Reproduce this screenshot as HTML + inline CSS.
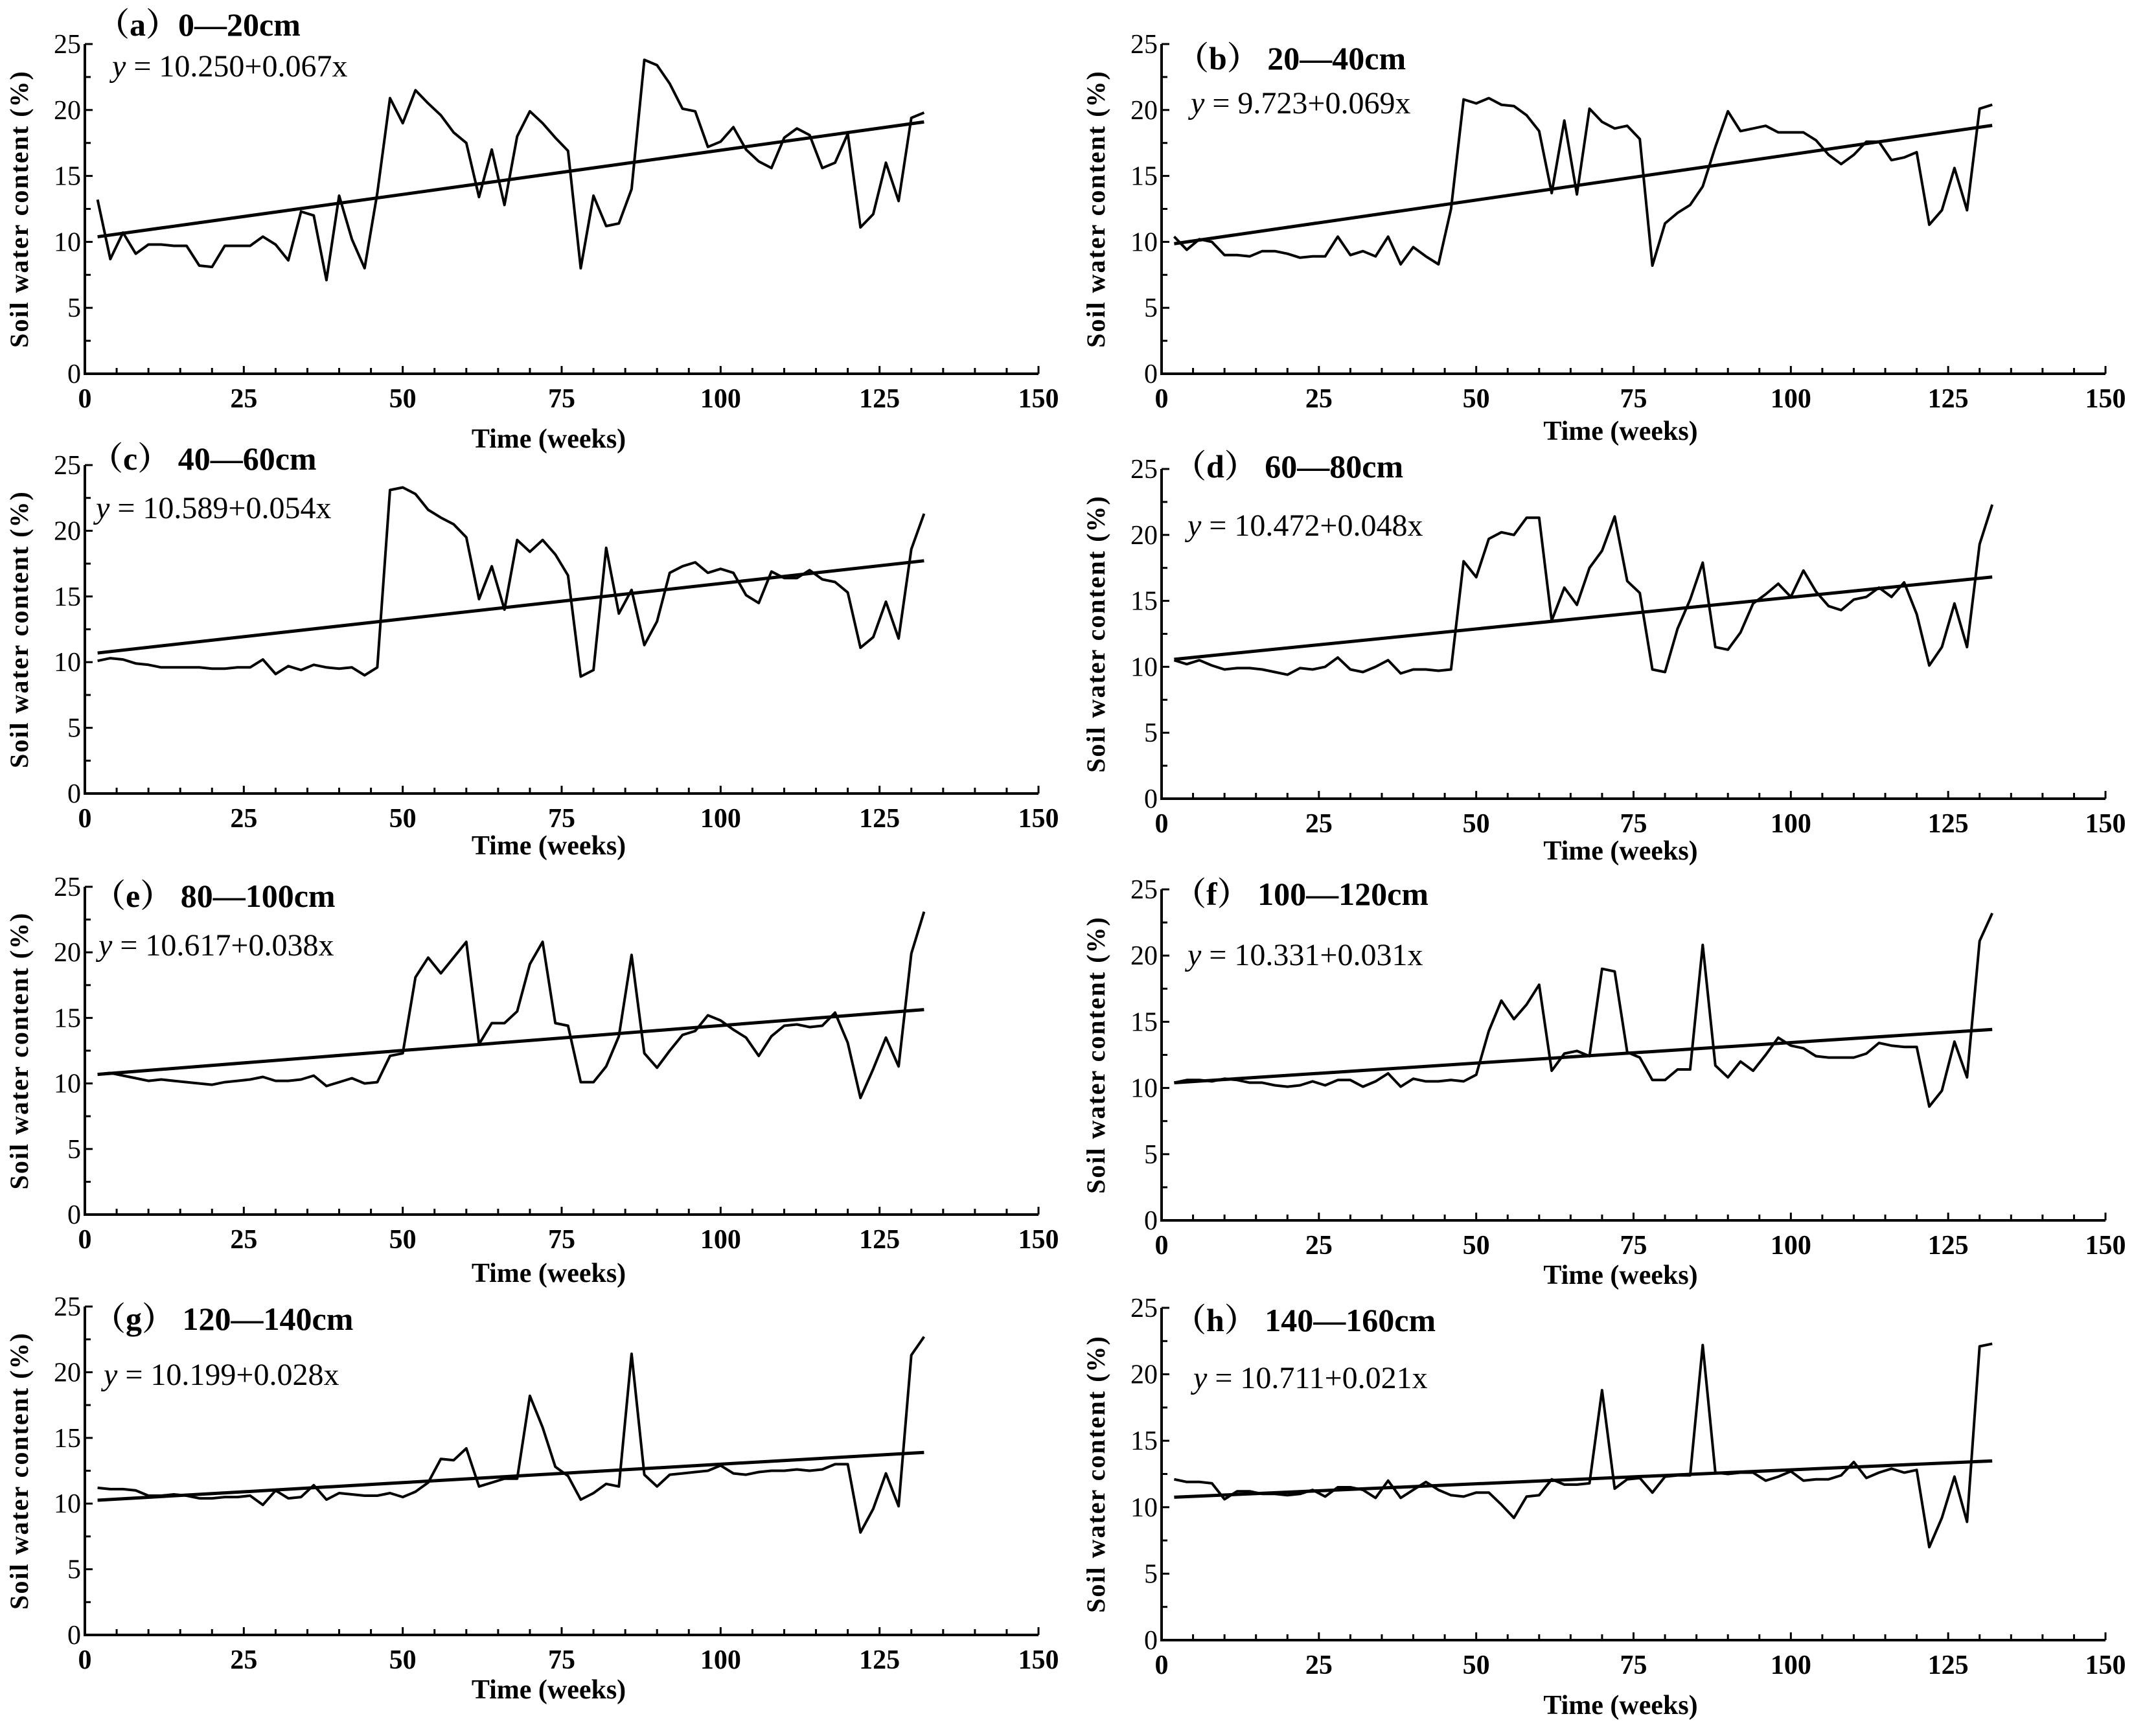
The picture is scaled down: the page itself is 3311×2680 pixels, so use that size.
<!DOCTYPE html>
<html><head><meta charset="utf-8"><style>
html,body{margin:0;padding:0;background:#fff;}
svg{display:block;font-family:"Liberation Serif","Noto Serif CJK SC",serif;}
</style></head>
<body>
<svg id="fig" width="3311" height="2680" viewBox="0 0 3311 2680" xmlns="http://www.w3.org/2000/svg"></svg>
<script>
const weeks = [];
for (let w = 2; w <= 132; w += 2) weeks.push(w);
const xTicks = [0,25,50,75,100,125,150];
const yTicks = [0,5,10,15,20,25];
const titles = ["（a）0—20cm","（b） 20—40cm","（c） 40—60cm","（d） 60—80cm","（e） 80—100cm","（f） 100—120cm","（g） 120—140cm","（h） 140—160cm"];
const intercepts = [10.250,9.723,10.589,10.472,10.617,10.331,10.199,10.711];
const slopes = [0.067,0.069,0.054,0.048,0.038,0.031,0.028,0.021];
const seriesA = [13.2,8.7,10.7,9.1,9.8,9.8,9.7,9.7,8.2,8.1,9.7,9.7,9.7,10.4,9.8,8.6,12.3,12.0,7.1,13.5,10.2,8.0,13.7,20.9,19.0,21.5,20.5,19.6,18.3,17.5,13.4,17.0,12.8,18.0,19.9,19.0,17.9,16.9,8.0,13.5,11.2,11.4,14.0,23.8,23.4,22.0,20.1,19.9,17.2,17.6,18.7,17.0,16.1,15.6,17.9,18.6,18.1,15.6,16.0,18.2,11.1,12.1,16.0,13.1,19.4,19.8];
const seriesB = [10.4,9.4,10.2,10.0,9.0,9.0,8.9,9.3,9.3,9.1,8.8,8.9,8.9,10.4,9.0,9.3,8.9,10.4,8.3,9.6,8.9,8.3,12.5,20.8,20.5,20.9,20.4,20.3,19.6,18.4,13.7,19.2,13.6,20.1,19.1,18.6,18.8,17.8,8.2,11.4,12.2,12.8,14.2,17.2,19.9,18.4,18.6,18.8,18.3,18.3,18.3,17.7,16.6,15.9,16.6,17.6,17.6,16.2,16.4,16.8,11.3,12.4,15.6,12.4,20.1,20.4];
const seriesC = [10.1,10.3,10.2,9.9,9.8,9.6,9.6,9.6,9.6,9.5,9.5,9.6,9.6,10.2,9.1,9.7,9.4,9.8,9.6,9.5,9.6,9.0,9.6,23.1,23.3,22.8,21.6,21.0,20.5,19.5,14.8,17.3,14.0,19.3,18.4,19.3,18.2,16.6,8.9,9.4,18.7,13.7,15.5,11.3,13.1,16.8,17.3,17.6,16.8,17.1,16.8,15.1,14.5,16.9,16.4,16.4,17.0,16.3,16.1,15.3,11.1,11.9,14.6,11.8,18.6,21.3];
const seriesD = [10.5,10.2,10.5,10.1,9.8,9.9,9.9,9.8,9.6,9.4,9.9,9.8,10.0,10.7,9.8,9.6,10.0,10.5,9.5,9.8,9.8,9.7,9.8,18.0,16.8,19.7,20.2,20.0,21.3,21.3,13.5,16.0,14.7,17.5,18.8,21.4,16.5,15.6,9.8,9.6,12.9,15.1,17.9,11.5,11.3,12.6,14.8,15.5,16.3,15.3,17.3,15.7,14.6,14.3,15.1,15.3,16.0,15.3,16.4,14.0,10.1,11.5,14.8,11.5,19.3,22.3];
const seriesE = [10.7,10.8,10.6,10.4,10.2,10.3,10.2,10.1,10.0,9.9,10.1,10.2,10.3,10.5,10.2,10.2,10.3,10.6,9.8,10.1,10.4,10.0,10.1,12.1,12.3,18.1,19.6,18.4,19.6,20.8,13.0,14.6,14.6,15.5,19.1,20.8,14.6,14.4,10.1,10.1,11.3,13.6,19.8,12.3,11.2,12.5,13.7,14.0,15.2,14.8,14.1,13.5,12.1,13.6,14.4,14.5,14.3,14.4,15.4,13.1,8.9,11.1,13.5,11.3,19.9,23.1];
const seriesF = [10.4,10.6,10.6,10.5,10.7,10.6,10.4,10.4,10.2,10.1,10.2,10.5,10.2,10.6,10.6,10.1,10.5,11.1,10.1,10.7,10.5,10.5,10.6,10.5,11.0,14.3,16.6,15.2,16.3,17.8,11.3,12.6,12.8,12.4,19.0,18.8,12.7,12.3,10.6,10.6,11.4,11.4,20.8,11.7,10.8,12.0,11.3,12.5,13.8,13.2,13.0,12.4,12.3,12.3,12.3,12.6,13.4,13.2,13.1,13.1,8.6,9.8,13.5,10.8,21.1,23.2];
const seriesG = [11.2,11.1,11.1,11.0,10.6,10.6,10.7,10.6,10.4,10.4,10.5,10.5,10.6,9.9,11.0,10.4,10.5,11.4,10.3,10.8,10.7,10.6,10.6,10.8,10.5,10.9,11.6,13.4,13.3,14.2,11.3,11.6,11.9,11.9,18.2,15.8,12.8,12.1,10.3,10.8,11.5,11.3,21.4,12.2,11.3,12.2,12.3,12.4,12.5,12.9,12.3,12.2,12.4,12.5,12.5,12.6,12.5,12.6,13.0,13.0,7.8,9.6,12.3,9.8,21.3,22.7];
const seriesH = [12.1,11.9,11.9,11.8,10.6,11.2,11.2,11.0,11.0,10.9,11.0,11.3,10.8,11.5,11.5,11.3,10.7,12.0,10.7,11.3,11.9,11.3,10.9,10.8,11.1,11.1,10.2,9.2,10.8,10.9,12.1,11.7,11.7,11.8,18.8,11.4,12.1,12.2,11.1,12.3,12.4,12.4,22.2,12.6,12.5,12.6,12.6,12.0,12.3,12.7,12.0,12.1,12.1,12.4,13.4,12.2,12.6,12.9,12.6,12.8,7.0,9.2,12.3,8.9,22.1,22.3];
const allSeries = [seriesA,seriesB,seriesC,seriesD,seriesE,seriesF,seriesG,seriesH];

// layout: [x0px, x150px, y0px, y25px, titleX, titleY, eqX, eqY, xTitleOffset]
const layout = [
 [131,1603,577,68, 150,55, 173,118, 100],
 [1793,3250,577,68, 1816,107, 1838,175, 88],
 [131,1603,1225,718, 140,725, 148,800, 80],
 [1793,3250,1233,724, 1812,737, 1833,827, 80],
 [131,1603,1875,1369, 144,1400, 152,1475, 90],
 [1793,3250,1884,1373, 1812,1397, 1833,1490, 84],
 [131,1603,2524,2017, 144,2053, 160,2138, 84],
 [1793,3250,2532,2019, 1812,2055, 1842,2143, 100]
];
const NS = "http://www.w3.org/2000/svg";
const svg = document.getElementById("fig");
function mk(tag, attrs, parent){ const e=document.createElementNS(NS,tag); for(const k in attrs) e.setAttribute(k,attrs[k]); (parent||svg).appendChild(e); return e; }
const letters = "abcdefgh";
layout.forEach((L, i) => {
  const [x0,x1,y0,y1,tx,ty,ex,ey,xto] = L;
  const sx = v => x0 + (x1-x0)*v/150;
  const sy = v => y0 - (y0-y1)*v/25;
  const g = mk("g",{});
  
  
  const ax = mk("path",{d:`M${x0},${y1} L${x0},${y0} L${x1},${y0}`,fill:"none",stroke:"#000","stroke-width":4},g);
  
  
  for (let v=0; v<=150; v+=5){ mk("line",{x1:sx(v),x2:sx(v),y1:y0,y2:y0-(v%25===0?12:9),stroke:"#000","stroke-width":3},g); }
  for (let v=0; v<=25; v+=2.5){ mk("line",{x1:x0,x2:x0+(v%5===0?12:9),y1:sy(v),y2:sy(v),stroke:"#000","stroke-width":3},g); }
  xTicks.forEach(v => {
    const t = mk("text",{x:sx(v),y:y0+52,"text-anchor":"middle","font-size":42,"font-weight":"bold"},g);
    t.textContent = v;
    
    
  });
  yTicks.forEach(v => {
    const t = mk("text",{x:x0-6,y:sy(v)+14,"text-anchor":"end","font-size":42},g);
    t.textContent = v;
    
    
  });
  const xt = mk("text",{x:(x0+x1)/2-20,y:y0+xto+14,"text-anchor":"middle","font-size":42,"font-weight":"bold"},g);
  xt.textContent = "Time (weeks)";
  
  
  const ycx = x0-88, ycy = (y0+y1)/2;
  const yt = mk("text",{x:ycx,y:ycy,"text-anchor":"middle","font-size":40,"font-weight":"bold",transform:`rotate(-90 ${ycx} ${ycy})`,"letter-spacing":"2"},g);
  yt.textContent = "Soil water content (%)";
  
  
  const tt = mk("text",{x:tx,y:ty,"font-size":50,"font-weight":"bold"},g);
  tt.textContent = titles[i];
  
  
  const eq = mk("text",{x:ex,y:ey,"font-size":48},g);
  
  
  const ys = mk("tspan",{"font-style":"italic"},eq); ys.textContent = "y";
  const rest = mk("tspan",{},eq); rest.textContent = " = " + intercepts[i].toFixed(3) + "+" + slopes[i].toFixed(3) + "x";
  const s = allSeries[i];
  const pts = s.map((v,k) => sx(weeks[k]).toFixed(1)+","+sy(v).toFixed(1)).join(" ");
  const pl = mk("polyline",{points:pts,fill:"none",stroke:"#000","stroke-width":4,"stroke-linejoin":"round"},g);
  
  
  const wa = weeks[0], wb = weeks[weeks.length-1];
  const tr = mk("line",{x1:sx(wa),y1:sy(intercepts[i]+slopes[i]*wa),x2:sx(wb),y2:sy(intercepts[i]+slopes[i]*wb),stroke:"#000","stroke-width":5},g);
  
  
});
</script>
</body></html>
